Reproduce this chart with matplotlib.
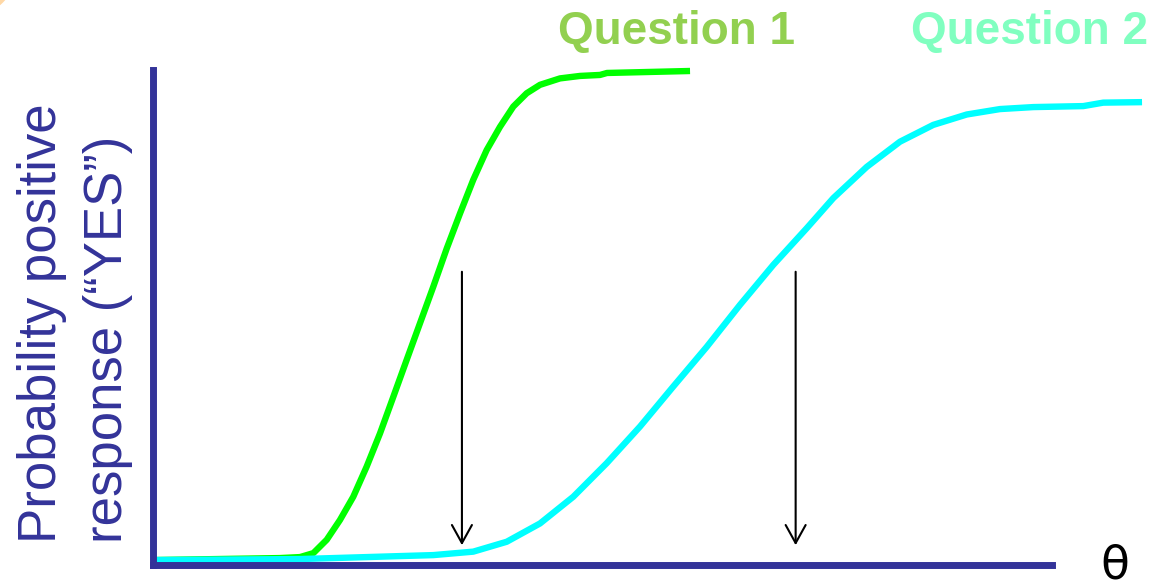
import matplotlib
matplotlib.use("Agg")
import matplotlib.pyplot as plt
from matplotlib.patches import Circle
from matplotlib.transforms import IdentityTransform

# theta (ability) on a 0..10 axis, probability of "YES" on 0..1
q1_theta = [0.028, 1.417, 1.640, 1.788, 1.937, 2.084, 2.232, 2.381, 2.529, 2.677,
            2.826, 2.974, 3.122, 3.271, 3.419, 3.566, 3.715, 3.863, 4.011, 4.160,
            4.308, 4.530, 4.753, 4.975, 5.053, 5.976]
q1_prob = [0.009, 0.013, 0.015, 0.023, 0.050, 0.090, 0.137, 0.198, 0.265, 0.339,
           0.414, 0.488, 0.562, 0.639, 0.710, 0.778, 0.838, 0.885, 0.926, 0.953,
           0.970, 0.983, 0.988, 0.990, 0.994, 0.998]

q2_theta = [0.028, 1.640, 2.381, 3.122, 3.566, 3.938, 4.308, 4.678, 5.050, 5.420,
            5.790, 6.161, 6.531, 6.902, 7.273, 7.569, 7.940, 8.310, 8.680, 9.052,
            9.422, 9.792, 10.348, 10.570, 11.001]
q2_prob = [0.009, 0.011, 0.015, 0.019, 0.026, 0.046, 0.083, 0.137, 0.205, 0.279,
           0.360, 0.440, 0.525, 0.606, 0.680, 0.741, 0.804, 0.855, 0.889, 0.910,
           0.921, 0.925, 0.927, 0.934, 0.935]

# arrows mark the 50% point of each item
arrow_theta = [3.44, 7.15]
arrow_top = 0.592
arrow_bottom = 0.039

labels = ["Question 1", "Question 2"]
label_colors = ["#92D050", "#80FFC0"]
ylabel = "Probability positive\nresponse (\u201cYES\u201d)"

W, H = 1161, 587
navy = "#333399"
plt.rcParams['font.family'] = ['Liberation Sans', 'DejaVu Sans']

fig = plt.figure(figsize=(W / 100, H / 100), dpi=100)
fig.patch.set_facecolor("white")

# small orange decoration in the top-left corner
fig.patches.append(Circle((-22, H + 22), 35, transform=IdentityTransform(),
                          facecolor="#FFC880", edgecolor="none", alpha=0.7))

ax = fig.add_axes([152.5 / W, (H - 564.5) / H, (1052 - 152.5) / W, (564.5 - 70) / H])
ax.set_xlim(0, 10)
ax.set_ylim(0, 1)
ax.patch.set_alpha(0)
for s in ["top", "right"]:
    ax.spines[s].set_visible(False)
for s in ["left", "bottom"]:
    ax.spines[s].set_color(navy)
    ax.spines[s].set_linewidth(5)
    ax.spines[s].set_capstyle("projecting")
    ax.spines[s].set_zorder(5)
ax.set_xticks([])
ax.set_yticks([])

ax.plot(q1_theta, q1_prob, color="#00FF00", lw=4.6, clip_on=False, zorder=3,
        solid_capstyle="butt", solid_joinstyle="round")
ax.plot(q2_theta, q2_prob, color="#00FFFF", lw=4.6, clip_on=False, zorder=4,
        solid_capstyle="butt", solid_joinstyle="round")

for t in arrow_theta:
    ax.annotate("", xy=(t, arrow_bottom), xytext=(t, arrow_top),
                arrowprops=dict(arrowstyle="->,head_length=0.65,head_width=0.36",
                                color="black", lw=1.5, mutation_scale=20,
                                shrinkA=0, shrinkB=0))

fig.text(677 / W, (H - 44) / H, labels[0], color=label_colors[0], fontsize=33,
         fontweight="bold", ha="center", va="baseline")
fig.text(1030 / W, (H - 44) / H, labels[1], color=label_colors[1], fontsize=33,
         fontweight="bold", ha="center", va="baseline")

fig.text(75 / W, (H - 543) / H, ylabel, color=navy, fontsize=38, rotation=90,
         ha="center", va="bottom", multialignment="left", linespacing=1.4)

fig.text(1115 / W, (H - 566) / H, "\u03b8", color="black", fontsize=34,
         family="DejaVu Sans", ha="center", va="center")

fig.savefig("out.png", dpi=100)
